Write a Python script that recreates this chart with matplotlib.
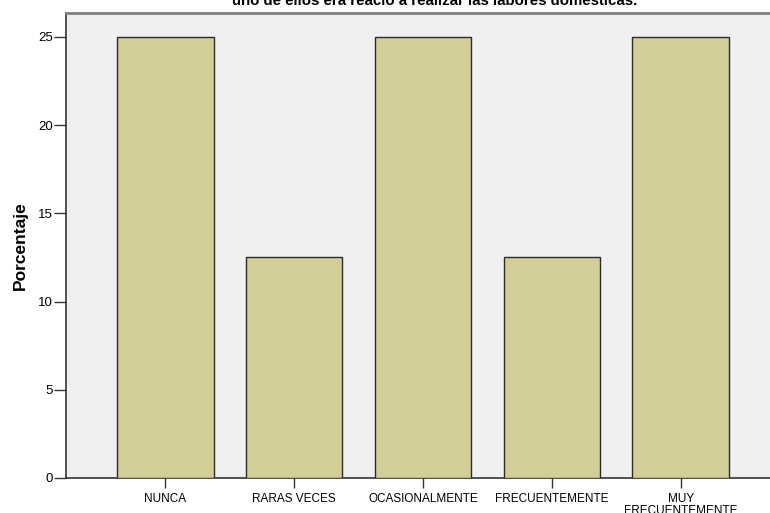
import numpy as np
import matplotlib.pyplot as plt

plt.rcParams['font.family'] = ['Liberation Sans', 'DejaVu Sans']

categories = ['NUNCA', 'RARAS VECES', 'OCASIONALMENTE', 'FRECUENTEMENTE', 'MUY\nFRECUENTEMENTE']
porcentaje = [25.0, 12.5, 25.0, 12.5, 25.0]
yticks = [0, 5, 10, 15, 20, 25]
title = 'uno de ellos era reacio a realizar las labores domésticas.'

fig = plt.figure(figsize=(7.7, 5.13), dpi=100)
ax = fig.add_axes([66/770, 35/513, 714/770, 465/513])
ax.set_facecolor('#F0F0F0')

x = np.arange(len(categories))
ax.bar(x, porcentaje, width=0.75, color='#D3CE97', edgecolor='#2b2b2b', linewidth=1.0, zorder=3)

ax.set_xlim(-0.771, len(categories) - 1 + 0.771)
ax.set_ylim(0, 26.36)
ax.set_yticks(yticks)
ax.set_xticks(x)
ax.set_xticklabels(categories, fontsize=8.5, linespacing=0.95)
ax.tick_params(axis='y', labelsize=9.5, length=9, width=1, color='#333333', pad=0.5)
ax.tick_params(axis='x', length=7, width=1, color='#333333', pad=4)
ax.set_ylabel('Porcentaje', fontsize=12.5, fontweight='bold', labelpad=7)

for s in ['left', 'bottom']:
    ax.spines[s].set_color('#333333')
    ax.spines[s].set_linewidth(1.2)
ax.spines['top'].set_color('#808080')
ax.spines['top'].set_linewidth(2)
ax.spines['right'].set_visible(False)

fig.text(435/770, 1 - 5/513, title, ha='center', va='baseline', fontsize=10.8, fontweight='bold')

fig.savefig('out.png', dpi=100)
